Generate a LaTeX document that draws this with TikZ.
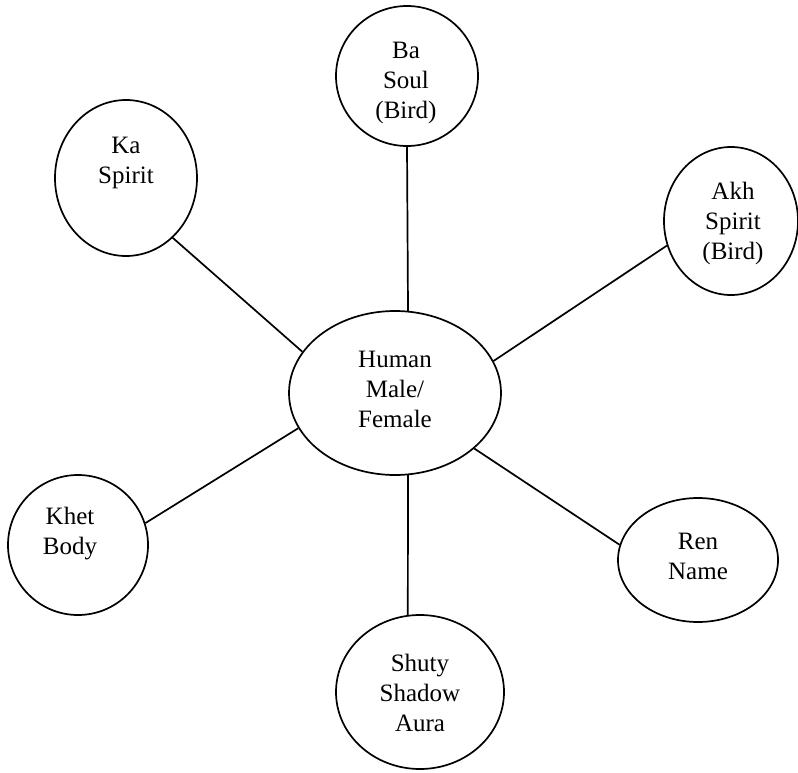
\documentclass[tikz,border=0pt]{standalone}
\usepackage{fontspec}
\setmainfont{Liberation Serif}
\usetikzlibrary{shapes.geometric}
\tikzset{
  bubble/.style={draw, ellipse, line width=1.7pt, inner sep=0pt},
  lbl/.style={align=center, inner sep=0pt, font=\fontsize{25}{30}\selectfont},
  link/.style={line width=1.7pt}
}
\begin{document}
\begin{tikzpicture}[x=1pt,y=-1pt]
\useasboundingbox (0,0) rectangle (798,773);
% ellipses
\node[bubble, minimum width=212pt, minimum height=164pt] (human) at (395,393) {};
\node[bubble, minimum width=142pt, minimum height=140pt] (ba) at (407,76) {};
\node[bubble, minimum width=142pt, minimum height=156pt] (ka) at (126,178) {};
\node[bubble, minimum width=134pt, minimum height=148pt] (akh) at (731,221) {};
\node[bubble, minimum width=140pt, minimum height=140pt] (khet) at (78,545) {};
\node[bubble, minimum width=160pt, minimum height=124pt] (ren) at (698,560) {};
\node[bubble, minimum width=168pt, minimum height=154pt] (shuty) at (420,692) {};
% texts
\node[lbl] (thuman) at (395,389) {Human\\Male/\\Female};
\node[lbl] (tba) at (406,83) {Ba\\Soul\\(Bird)};
\node[lbl] (tka) at (126,163) {Ka\\Spirit};
\node[lbl] (takh) at (733,223) {Akh\\Spirit\\(Bird)};
\node[lbl] (tkhet) at (70,534) {Khet\\Body};
\node[lbl] (tren) at (698,556) {Ren\\Name};
\node[lbl] (tshuty) at (420,693) {Shuty\\Shadow\\Aura};
% connectors
\draw[link] (ba.-90) -- (human.81.7);
\draw[link] (ka.-52.5) -- (human.156.2);
\draw[link] (akh.-159.4) -- (human.18.3);
\draw[link] (khet.18.4) -- (human.200.4);
\draw[link] (ren.169.3) -- (human.-35.7);
\draw[link] (shuty.99.6) -- (human.-81.7);
\end{tikzpicture}
\end{document}
